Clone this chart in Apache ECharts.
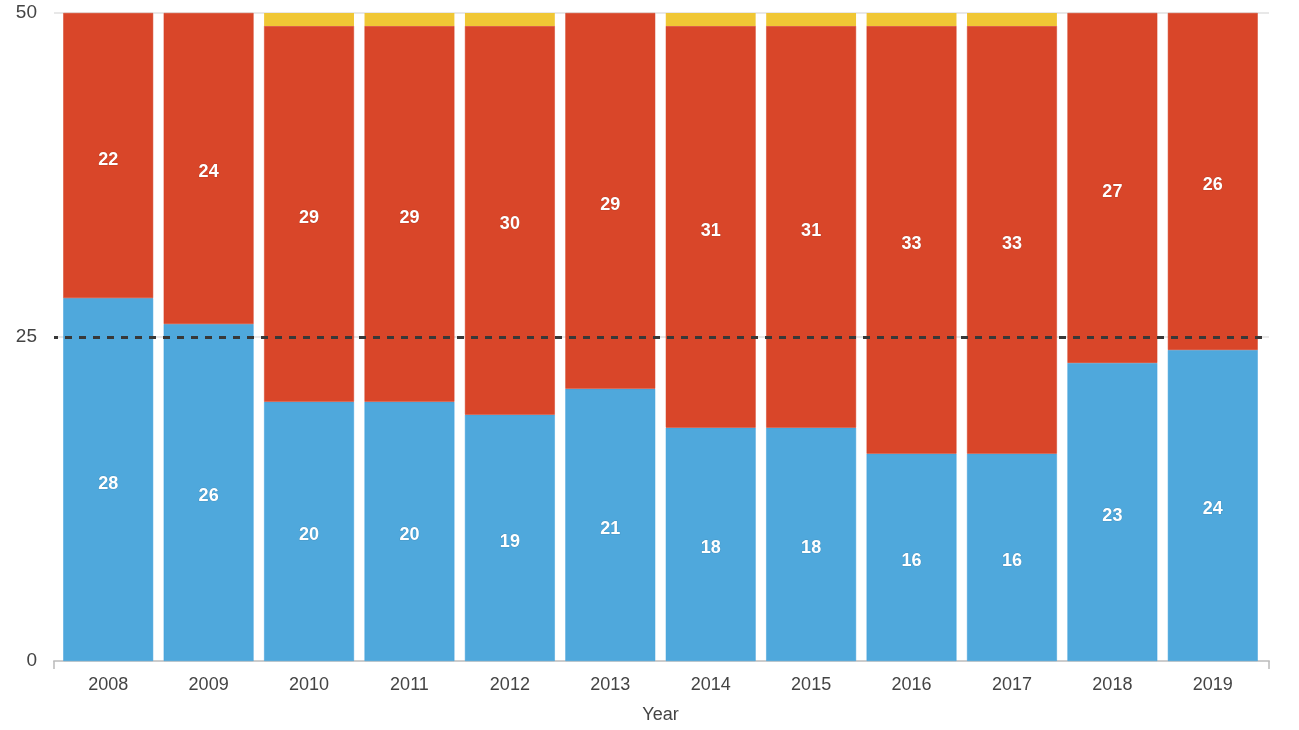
<!DOCTYPE html>
<html>
<head>
<meta charset="utf-8">
<script src="https://cdn.jsdelivr.net/npm/echarts@6/dist/echarts.min.js"></script>
<style>
html,body{margin:0;padding:0;background:#fff;}
#chart{width:1299px;height:730px;}
</style>
</head>
<body>
<div id="chart"></div>
<script>
const years = ['2008','2009','2010','2011','2012','2013','2014','2015','2016','2017','2018','2019'];
const blueValues = [28,26,20,20,19,21,18,18,16,16,23,24];
const redValues = [22,24,29,29,30,29,31,31,33,33,27,26];
const yellowValues = [0,0,1,1,1,0,1,1,1,1,0,0];
const referenceLine = 25;
const yTicks = [0, 25, 50];

const FONT = 'Liberation Sans, Helvetica, Arial, sans-serif';
const chart = echarts.init(document.getElementById('chart'));
const labelStyle = {
  show: true, position: 'inside', color: '#fff', fontSize: 18, fontWeight: 'bold',
  fontFamily: FONT, offset: [0, 4],
  textBorderColor: 'rgba(0,0,0,0.12)', textBorderWidth: 1
};
const yMin = yTicks[0], yMax = yTicks[yTicks.length - 1];
chart.setOption({
  animation: false,
  grid: [
    {left: 58, right: 36, top: 13, bottom: 69},
    {left: 54, right: 30, top: 13, bottom: 69}
  ],
  xAxis: [{
    type: 'category', data: years, gridIndex: 0, position: 'bottom',
    name: 'Year', nameLocation: 'middle', nameGap: 45,
    nameTextStyle: {color: '#444', fontSize: 18, fontFamily: FONT},
    axisLine: {show: false},
    axisTick: {alignWithLabel: true, length: 8, lineStyle: {color: '#bbb', width: 1.5}},
    axisLabel: {color: '#444', fontSize: 18, fontFamily: FONT, margin: 15}
  }, {
    type: 'value', gridIndex: 1, min: 0, max: 1, interval: 1, position: 'bottom',
    axisLine: {show: true, lineStyle: {color: '#ccc', width: 2}},
    axisTick: {show: true, length: 8, lineStyle: {color: '#bbb', width: 1.5}},
    axisLabel: {show: false}, splitLine: {show: false}
  }],
  yAxis: [{
    type: 'value', gridIndex: 0, min: yMin, max: yMax, interval: 25, show: false,
    splitLine: {show: false}
  }, {
    type: 'value', gridIndex: 1, min: yMin, max: yMax, interval: 25,
    axisLine: {show: false}, axisTick: {show: false},
    axisLabel: {color: '#444', fontSize: 19, fontFamily: FONT, margin: 17},
    splitLine: {lineStyle: {color: '#e8e8e8', width: 2}}
  }],
  series: [{
    type: 'bar', stack: 'total', data: blueValues, barCategoryGap: '10.5%',
    xAxisIndex: 0, yAxisIndex: 0,
    itemStyle: {color: '#4fa8dc', borderColor: '#3f9fdb', borderWidth: 0.5},
    label: labelStyle
  }, {
    type: 'bar', stack: 'total', data: redValues, xAxisIndex: 0, yAxisIndex: 0,
    itemStyle: {color: '#d94629', borderColor: '#d23e22', borderWidth: 0.5},
    label: labelStyle
  }, {
    type: 'bar', stack: 'total', data: yellowValues, xAxisIndex: 0, yAxisIndex: 0,
    itemStyle: {color: '#f0c735'},
    label: {show: false}
  }, {
    type: 'line', data: [], xAxisIndex: 1, yAxisIndex: 1, z: 5,
    markLine: {
      silent: true, symbol: ['none', 'none'], label: {show: false},
      lineStyle: {color: '#383838', width: 3, type: [7, 7], dashOffset: 3},
      data: [{yAxis: referenceLine}]
    }
  }]
});
</script>
</body>
</html>
